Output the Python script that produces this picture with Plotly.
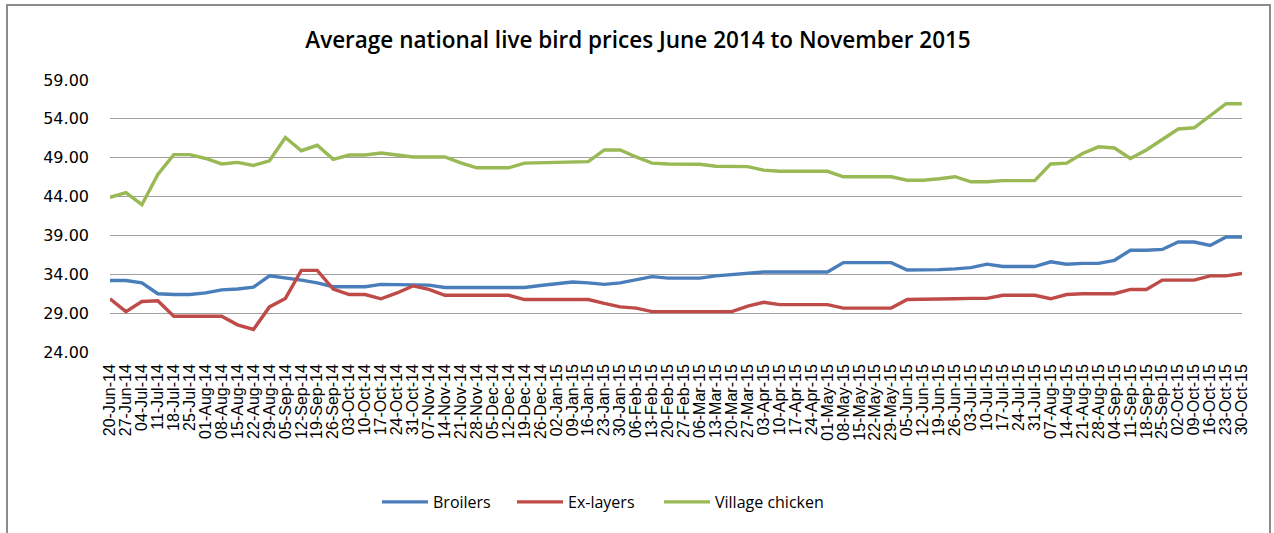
import plotly.graph_objects as go

dates = ["20-Jun-14","27-Jun-14","04-Jul-14","11-Jul-14","18-Jul-14","25-Jul-14","01-Aug-14","08-Aug-14",
         "15-Aug-14","22-Aug-14","29-Aug-14","05-Sep-14","12-Sep-14","19-Sep-14","26-Sep-14","03-Oct-14",
         "10-Oct-14","17-Oct-14","24-Oct-14","31-Oct-14","07-Nov-14","14-Nov-14","21-Nov-14","28-Nov-14",
         "05-Dec-14","12-Dec-14","19-Dec-14","26-Dec-14","02-Jan-15","09-Jan-15","16-Jan-15","23-Jan-15",
         "30-Jan-15","06-Feb-15","13-Feb-15","20-Feb-15","27-Feb-15","06-Mar-15","13-Mar-15","20-Mar-15",
         "27-Mar-15","03-Apr-15","10-Apr-15","17-Apr-15","24-Apr-15","01-May-15","08-May-15","15-May-15",
         "22-May-15","29-May-15","05-Jun-15","12-Jun-15","19-Jun-15","26-Jun-15","03-Jul-15","10-Jul-15",
         "17-Jul-15","24-Jul-15","31-Jul-15","07-Aug-15","14-Aug-15","21-Aug-15","28-Aug-15","04-Sep-15",
         "11-Sep-15","18-Sep-15","25-Sep-15","02-Oct-15","09-Oct-15","16-Oct-15","23-Oct-15","30-Oct-15"]

broilers = [33.2, 33.2, 32.9, 31.5, 31.4, 31.4, 31.6, 32.0, 32.1, 32.35,
            33.8, 33.55, 33.25, 32.9, 32.4, 32.4, 32.4, 32.7, 32.7, 32.7,
            32.6, 32.3, 32.3, 32.3, 32.3, 32.3, 32.3, 32.55, 32.8, 33.0,
            32.9, 32.7, 32.9, 33.25, 33.7, 33.5, 33.5, 33.5, 33.8, 34.0,
            34.1, 34.3, 34.3, 34.3, 34.3, 34.3, 35.5, 35.5, 35.5, 35.5,
            34.55, 34.55, 34.6, 34.7, 34.85, 35.3, 35.0, 35.0, 35.0, 35.6,
            35.3, 35.4, 35.4, 35.8, 37.1, 37.1, 37.2, 38.15, 38.15, 37.7,
            38.8, 38.8]

ex_layers = [30.85, 29.2, 30.5, 30.6, 28.6, 28.6, 28.6, 28.6, 27.5, 26.9,
             29.8, 30.9, 34.5, 34.5, 32.1, 31.4, 31.4, 30.85, 31.6, 32.5,
             32.05, 31.3, 31.3, 31.3, 31.3, 31.3, 30.75, 30.75, 30.75, 30.75,
             30.75, 30.25, 29.8, 29.65, 29.2, 29.2, 29.2, 29.2, 29.2, 29.2,
             29.9, 30.4, 30.1, 30.1, 30.1, 30.1, 29.65, 29.65, 29.65, 29.65,
             30.75, 30.75, 30.75, 30.85, 30.9, 30.9, 31.3, 31.3, 31.3, 30.85,
             31.4, 31.5, 31.5, 31.5, 32.05, 32.05, 33.25, 33.25, 33.25, 33.8,
             33.8, 34.1]

village = [43.9, 44.5, 42.95, 46.85, 49.4, 49.4, 48.9, 48.2, 48.4, 48.0,
           48.6, 51.6, 49.9, 50.6, 48.8, 49.35, 49.35, 49.6, 49.35, 49.1,
           49.1, 49.1, 48.35, 47.7, 47.7, 47.7, 48.3, 48.35, 48.45, 48.5,
           48.5, 50.0, 50.0, 49.1, 48.3, 48.2, 48.2, 48.15, 47.9, 47.85,
           47.85, 47.4, 47.25, 47.25, 47.25, 47.25, 46.55, 46.55, 46.55, 46.55,
           46.1, 46.1, 46.3, 46.55, 45.9, 45.9, 46.05, 46.05, 46.05, 48.2,
           48.3, 49.55, 50.4, 50.25, 48.9, 50.0, 51.35, 52.7, 52.85, 54.35,
           55.95, 55.95]

y_ticks = [24, 29, 34, 39, 44, 49, 54, 59]

series = [("Broilers", broilers, "#4A7EBB", "legend", 383),
          ("Ex-layers", ex_layers, "#BE4B48", "legend2", 518),
          ("Village chicken", village, "#98B954", "legend3", 665)]

W, H = 1274, 533
L, R, T, B = 110, 32, 80, 181
pw, ph = W - L - R, H - T - B

def px_x(x):
    return (x - L) / pw

def px_y(y):
    return (H - B - y) / ph

fig = go.Figure()
legends = {}
for name, vals, col, lg, lx in series:
    fig.add_trace(go.Scatter(x=dates, y=vals, name=name, mode="lines", legend=lg,
                             line=dict(color=col, width=3.4)))
    legends[lg] = dict(orientation="h", x=px_x(lx - 6), xanchor="left",
                       y=px_y(502), yanchor="middle", itemwidth=46,
                       font=dict(family="Open Sans", size=16, color="#000000"),
                       bgcolor="rgba(0,0,0,0)")

fig.update_layout(
    width=W, height=H,
    margin=dict(l=L, r=R, t=T, b=B, autoexpand=False),
    paper_bgcolor="white", plot_bgcolor="white",
    title=dict(text="Average national live bird prices June 2014 to November 2015",
               x=638 / W, xanchor="center", xref="container",
               y=1 - 40 / H, yanchor="middle", yref="container",
               font=dict(family="Open Sans", size=22.5, color="#000000", weight=600)),
    showlegend=True,
    xaxis=dict(type="category", range=[0, len(dates) - 1], showgrid=False,
               tickmode="linear", tick0=0, dtick=1, automargin=False,
               tickangle=-90, tickfont=dict(family="Liberation Sans", size=16, color="#000000"),
               showline=False, ticks="", ticklabelstandoff=8, zeroline=False),
    yaxis=dict(range=[24, 59], tickvals=y_ticks, tickformat=".2f", automargin=False,
               showgrid=True, gridcolor="#A0A0A0", gridwidth=1.3,
               tickfont=dict(family="DejaVu Sans", size=16, color="#000000"),
               ticks="", ticklabelstandoff=20, zeroline=False, showline=False),
    shapes=[dict(type="rect", xref="paper", yref="paper",
                 x0=px_x(7), x1=px_x(1270), y0=px_y(545), y1=px_y(5),
                 line=dict(color="#8C8C8C", width=2), fillcolor="rgba(0,0,0,0)", layer="below")],
    **legends,
)

fig.write_html("out.html", config={"displayModeBar": False},
               post_script="document.body.style.margin='0';document.body.style.padding='0';")
